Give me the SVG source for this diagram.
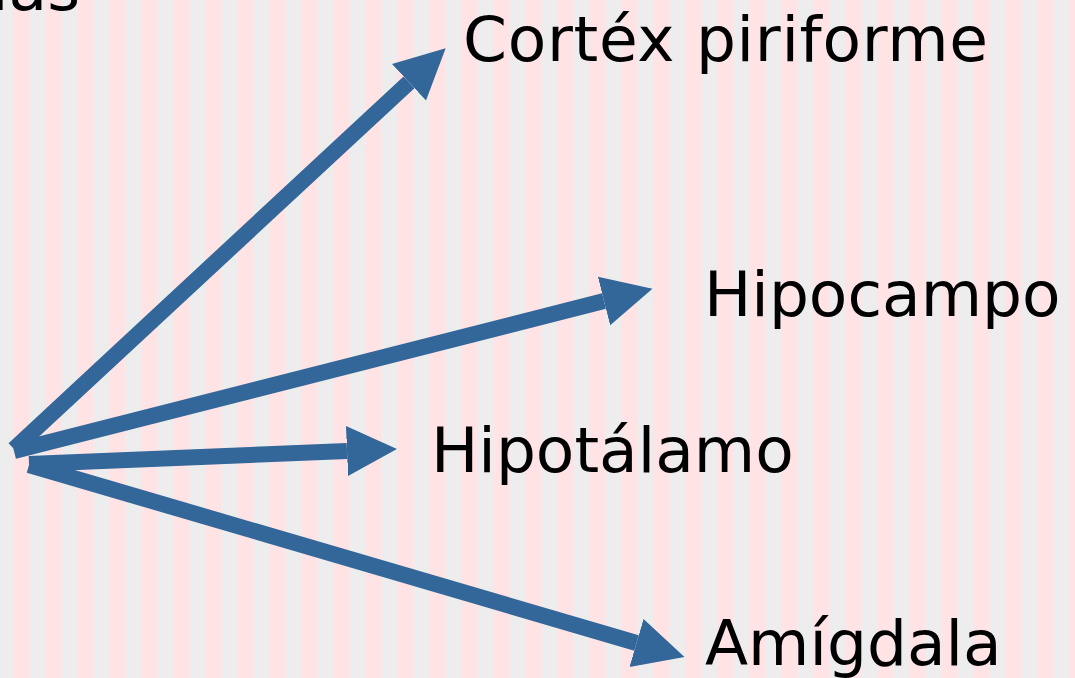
<svg xmlns="http://www.w3.org/2000/svg" width="1075" height="678" viewBox="0 0 1075 678">
<defs>
<marker id="head" markerUnits="userSpaceOnUse" markerWidth="54" markerHeight="56" viewBox="0 -28 54 56" refX="0" refY="0" orient="auto">
<path d="M0,-25 L50,0 L0,25 z" fill="#336699"/>
</marker>
<style>
.lbl{font-family:"DejaVu Sans","Verdana",sans-serif;font-size:63px;fill:#000}
.arr{stroke:#336699;stroke-width:16;fill:none;marker-end:url(#head)}
</style>
</defs>
<rect width="1075" height="678" fill="#EDEDED"/>
<line x1="13" y1="339" x2="1075" y2="339" stroke="#FFE3E5" stroke-width="678" stroke-dasharray="16 16"/>
<g id="title"><text class="lbl" x="80" y="10" text-anchor="end">Vías</text></g>
<g id="connectors">
<line class="arr" x1="14" y1="449" x2="409" y2="82.3"/>
<line class="arr" x1="14" y1="451" x2="604" y2="301"/>
<line class="arr" x1="29" y1="464" x2="347" y2="451"/>
<line class="arr" x1="29" y1="465" x2="636.5" y2="643"/>
</g>
<g id="n-cortex"><text class="lbl" x="463" y="61" textLength="525" lengthAdjust="spacing">Cortéx piriforme</text></g>
<g id="n-hipocampo"><text class="lbl" x="704" y="316">Hipocampo</text></g>
<g id="n-hipotalamo"><text class="lbl" x="431" y="472">Hipotálamo</text></g>
<g id="n-amigdala"><text class="lbl" x="705" y="665">Amígdala</text></g>
</svg>
